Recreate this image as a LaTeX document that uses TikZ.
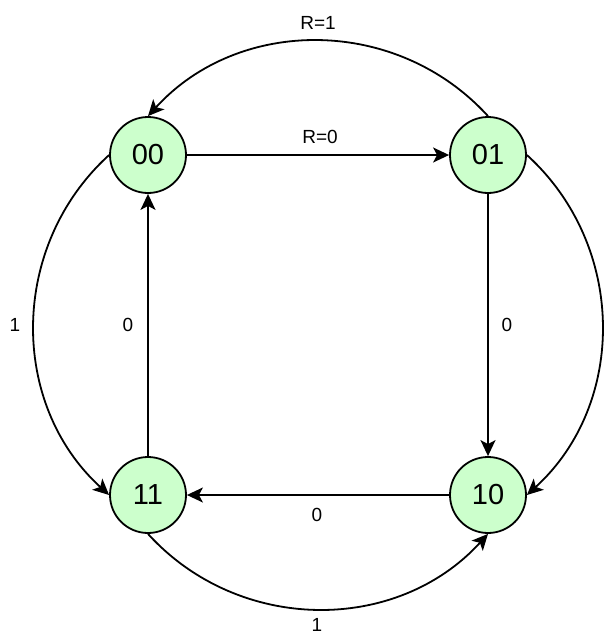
\documentclass[tikz,border=0pt]{standalone}
\usepackage{fontspec}
\setmainfont{Liberation Sans}
\usetikzlibrary{arrows.meta}
\definecolor{stategreen}{HTML}{CCFFCC}
\begin{document}
\begin{tikzpicture}[x=1pt,y=-1pt,
  state/.style={circle,draw=black,line width=1.8pt,fill=stategreen,minimum size=76pt,inner sep=0pt,font=\fontsize{29}{32}\selectfont},
  edge/.style={line width=1.8pt,-{Stealth[length=16pt,width=15pt,inset=4pt]}},
  lbl/.style={font=\fontsize{19}{22}\selectfont,inner sep=0pt}]
\useasboundingbox (0,0) rectangle (615,635);
\node[state] (n00) at (148,155) {00};
\node[state] (n01) at (488,155) {01};
\node[state] (n11) at (148,495) {11};
\node[state] (n10) at (488,495) {10};
% straight edges
\draw[edge] (n00.east) -- (n01.west);
\draw[edge] (n01.south) -- (n10.north);
\draw[edge] (n10.west) -- (n11.east);
\draw[edge] (n11.north) -- (n00.south);
% curved edges
\draw[edge] (n01.north) .. controls +(-91,-100) and +(91,-100) .. (n00.north);
\draw[edge] (n01.east) .. controls +(100,91) and +(100,-91) .. (n10.east);
\draw[edge] (n11.south) .. controls +(91,100) and +(-91,100) .. (n10.south);
\draw[edge] (n00.west) .. controls +(-100,91) and +(-100,-91) .. (n11.west);
% labels
\node[lbl] (lR1) at (318,23) {R=1};
\node[lbl] (lR0) at (320,137) {R=0};
\node[lbl] (lL1) at (15,325) {1};
\node[lbl] (lL0) at (128,325) {0};
\node[lbl] (lR) at (507,325) {0};
\node[lbl] (lB0) at (317,515) {0};
\node[lbl] (lB1) at (317,625) {1};
\end{tikzpicture}
\end{document}
